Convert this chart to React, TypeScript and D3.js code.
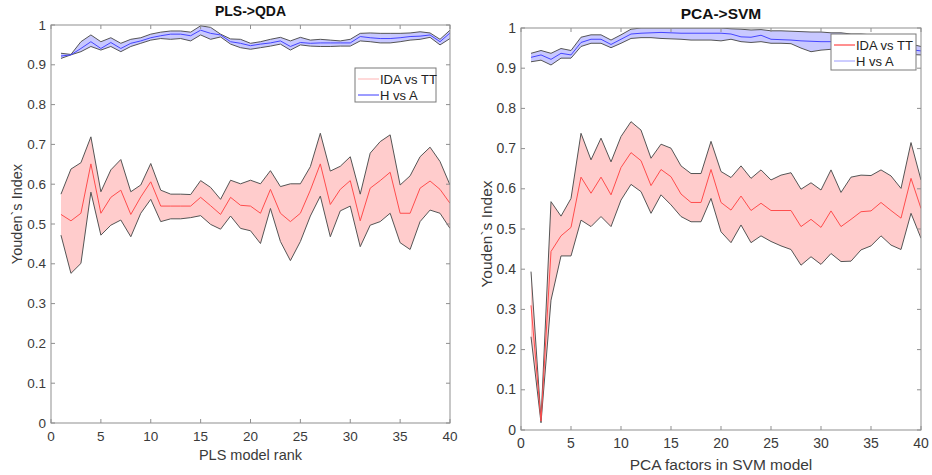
import * as d3 from 'd3';
import React, { useEffect, useRef } from 'react';

// ranks / factors on the x axis
const ranks = [1,2,3,4,5,6,7,8,9,10,11,12,13,14,15,16,17,18,19,20,21,22,23,24,25,26,27,28,29,30,31,32,33,34,35,36,37,38,39,40];
const xTicks = [0, 5, 10, 15, 20, 25, 30, 35, 40];
const yTicks = [0, 0.1, 0.2, 0.3, 0.4, 0.5, 0.6, 0.7, 0.8, 0.9, 1];

// PLS->QDA, IDA vs TT
const plsIdaHi = [0.575,0.638,0.654,0.719,0.581,0.636,0.662,0.581,0.598,0.652,0.585,0.575,0.575,0.574,0.609,0.592,0.562,0.610,0.601,0.610,0.601,0.634,0.594,0.601,0.601,0.644,0.728,0.633,0.645,0.669,0.575,0.678,0.707,0.724,0.598,0.621,0.669,0.693,0.657,0.598];
const plsIdaMean = [0.524,0.508,0.527,0.651,0.527,0.567,0.585,0.524,0.568,0.606,0.545,0.545,0.545,0.545,0.567,0.546,0.524,0.567,0.547,0.545,0.527,0.587,0.527,0.506,0.527,0.585,0.651,0.549,0.587,0.609,0.508,0.590,0.609,0.630,0.527,0.527,0.590,0.608,0.587,0.552];
const plsIdaLo = [0.472,0.376,0.401,0.580,0.472,0.497,0.510,0.468,0.527,0.562,0.506,0.513,0.513,0.516,0.521,0.499,0.487,0.520,0.489,0.483,0.451,0.539,0.456,0.408,0.456,0.520,0.570,0.468,0.533,0.545,0.443,0.497,0.506,0.527,0.453,0.436,0.506,0.535,0.527,0.489];
// PLS->QDA, H vs A
const plsHaHi = [0.929,0.926,0.958,0.975,0.958,0.968,0.954,0.964,0.968,0.977,0.982,0.985,0.985,0.982,0.998,0.994,0.977,0.965,0.964,0.954,0.958,0.964,0.969,0.960,0.969,0.962,0.964,0.962,0.960,0.964,0.979,0.980,0.979,0.979,0.979,0.980,0.983,0.980,0.964,0.987];
const plsHaMean = [0.922,0.925,0.941,0.958,0.941,0.956,0.941,0.954,0.960,0.968,0.973,0.977,0.977,0.973,0.987,0.979,0.975,0.958,0.954,0.948,0.952,0.955,0.960,0.946,0.956,0.954,0.955,0.955,0.955,0.955,0.971,0.968,0.966,0.966,0.968,0.971,0.972,0.975,0.958,0.980];
const plsHaLo = [0.916,0.925,0.933,0.946,0.937,0.946,0.933,0.946,0.954,0.962,0.966,0.964,0.966,0.960,0.975,0.964,0.970,0.952,0.943,0.939,0.943,0.947,0.952,0.937,0.950,0.947,0.946,0.946,0.947,0.947,0.960,0.958,0.955,0.955,0.958,0.962,0.964,0.969,0.950,0.966];

// PCA->SVM, IDA vs TT
const pcaIdaHi = [0.394,0.025,0.568,0.532,0.576,0.738,0.672,0.726,0.667,0.730,0.767,0.746,0.676,0.711,0.701,0.657,0.638,0.638,0.718,0.643,0.628,0.657,0.626,0.647,0.622,0.634,0.640,0.599,0.615,0.597,0.647,0.591,0.629,0.634,0.633,0.647,0.632,0.601,0.715,0.622];
const pcaIdaMean = [0.310,0.022,0.444,0.483,0.504,0.629,0.589,0.629,0.585,0.653,0.690,0.670,0.608,0.648,0.630,0.587,0.566,0.566,0.648,0.566,0.547,0.582,0.546,0.564,0.546,0.546,0.546,0.506,0.524,0.504,0.545,0.506,0.524,0.543,0.545,0.566,0.546,0.527,0.626,0.551];
const pcaIdaLo = [0.232,0.018,0.323,0.433,0.433,0.522,0.506,0.531,0.506,0.572,0.611,0.593,0.539,0.585,0.560,0.531,0.518,0.518,0.576,0.493,0.466,0.510,0.466,0.483,0.469,0.458,0.449,0.410,0.431,0.412,0.439,0.419,0.420,0.448,0.458,0.483,0.460,0.449,0.539,0.477];
// PCA->SVM, H vs A
const pcaHaHi = [0.937,0.944,0.937,0.949,0.944,0.977,0.983,0.983,0.970,0.983,0.997,1.0,1.0,1.0,1.0,1.0,1.0,1.0,1.0,1.0,0.998,0.997,0.995,0.996,0.993,0.993,0.992,0.991,0.990,0.990,0.988,0.988,0.985,0.985,0.983,0.982,0.980,0.975,0.960,0.954];
const pcaHaMean = [0.927,0.933,0.922,0.937,0.933,0.964,0.972,0.972,0.959,0.972,0.985,0.987,0.988,0.989,0.988,0.987,0.987,0.987,0.987,0.987,0.985,0.978,0.977,0.982,0.972,0.971,0.970,0.968,0.967,0.966,0.966,0.965,0.962,0.960,0.958,0.957,0.955,0.952,0.946,0.943];
const pcaHaLo = [0.916,0.920,0.908,0.925,0.925,0.954,0.962,0.962,0.951,0.962,0.974,0.976,0.976,0.974,0.973,0.972,0.970,0.970,0.970,0.968,0.972,0.966,0.964,0.966,0.962,0.962,0.961,0.950,0.941,0.945,0.947,0.946,0.944,0.942,0.940,0.938,0.937,0.935,0.934,0.933];

const FONT = "'Liberation Sans', Arial, sans-serif";

function drawPanel(svg, cfg) {
  const x = d3.scaleLinear().domain([0, 40]).range([cfg.left, cfg.right]);
  const y = d3.scaleLinear().domain([0, 1]).range([cfg.bottom, cfg.top]);
  const g = svg.append('g');

  const clipId = 'clip-' + cfg.id;
  g.append('clipPath').attr('id', clipId)
    .append('rect')
    .attr('x', cfg.left).attr('y', cfg.top)
    .attr('width', cfg.right - cfg.left).attr('height', cfg.bottom - cfg.top);

  const plot = g.append('g').attr('clip-path', `url(#${clipId})`);

  const area = d3.area()
    .x((d, i) => x(ranks[i]))
    .y0(d => y(d[0]))
    .y1(d => y(d[1]));
  const line = d3.line()
    .x((d, i) => x(ranks[i]))
    .y(d => y(d));

  cfg.bands.forEach(b => {
    plot.append('path')
      .datum(b.lo.map((v, i) => [v, b.hi[i]]))
      .attr('d', area)
      .attr('fill', b.fill);
    [b.hi, b.lo].forEach(s => {
      plot.append('path')
        .datum(s)
        .attr('d', line)
        .attr('fill', 'none')
        .attr('stroke', '#555')
        .attr('stroke-width', 1);
    });
    plot.append('path')
      .datum(b.mean)
      .attr('d', line)
      .attr('fill', 'none')
      .attr('stroke', b.color)
      .attr('stroke-width', 1);
  });

  // box and inward ticks on all sides
  const axisColor = '#8f8f8f';
  g.append('rect')
    .attr('x', cfg.left).attr('y', cfg.top)
    .attr('width', cfg.right - cfg.left).attr('height', cfg.bottom - cfg.top)
    .attr('fill', 'none').attr('stroke', axisColor).attr('stroke-width', 1);

  const tl = 4;
  xTicks.forEach(t => {
    g.append('line').attr('x1', x(t)).attr('x2', x(t))
      .attr('y1', cfg.bottom).attr('y2', cfg.bottom - tl).attr('stroke', axisColor);
    g.append('line').attr('x1', x(t)).attr('x2', x(t))
      .attr('y1', cfg.top).attr('y2', cfg.top + tl).attr('stroke', axisColor);
    g.append('text')
      .attr('x', x(t)).attr('y', cfg.bottom + 18)
      .attr('text-anchor', 'middle')
      .attr('font-size', cfg.fs).attr('fill', '#3a3a3a')
      .text(t);
  });
  yTicks.forEach(t => {
    g.append('line').attr('y1', y(t)).attr('y2', y(t))
      .attr('x1', cfg.left).attr('x2', cfg.left + tl).attr('stroke', axisColor);
    g.append('line').attr('y1', y(t)).attr('y2', y(t))
      .attr('x1', cfg.right).attr('x2', cfg.right - tl).attr('stroke', axisColor);
    g.append('text')
      .attr('x', cfg.left - 5).attr('y', y(t) + 4.5)
      .attr('text-anchor', 'end')
      .attr('font-size', cfg.fs).attr('fill', '#3a3a3a')
      .text(d3.format('~g')(t));
  });

  g.append('text')
    .attr('x', (cfg.left + cfg.right) / 2).attr('y', cfg.top - 9)
    .attr('text-anchor', 'middle')
    .attr('font-size', cfg.titleFs).attr('font-weight', 'bold').attr('fill', '#111')
    .text(cfg.title);

  g.append('text')
    .attr('x', (cfg.left + cfg.right) / 2).attr('y', cfg.xLabelY)
    .attr('text-anchor', 'middle')
    .attr('font-size', cfg.labelFs).attr('fill', '#3a3a3a')
    .text(cfg.xLabel);

  g.append('text')
    .attr('transform', `translate(${cfg.yLabelX},${cfg.yLabelMid}) rotate(-90)`)
    .attr('text-anchor', 'middle')
    .attr('font-size', cfg.labelFs).attr('fill', '#3a3a3a')
    .text("Youden`s Index");

  // legend
  const L = cfg.legend;
  const lg = g.append('g');
  lg.append('rect')
    .attr('x', L.x).attr('y', L.y).attr('width', L.w).attr('height', L.h)
    .attr('fill', '#fff').attr('stroke', '#7a7a7a').attr('stroke-width', 1);
  L.items.forEach((it, i) => {
    const yy = L.y + 11 + i * 16;
    lg.append('line')
      .attr('x1', L.x + 3).attr('x2', L.x + 24)
      .attr('y1', yy).attr('y2', yy)
      .attr('stroke', it.color).attr('stroke-width', 1);
    lg.append('text')
      .attr('x', L.x + 25).attr('y', yy + 4.5)
      .attr('font-size', 13).attr('fill', '#222')
      .text(it.label);
  });
}

const App = () => {
  const ref = useRef(null);

  useEffect(() => {
    const svg = d3.select(ref.current);
    svg.selectAll('*').remove();

    drawPanel(svg, {
      id: 'pls',
      left: 51, right: 450, top: 25, bottom: 423,
      fs: 13.5, labelFs: 14.5, titleFs: 14,
      title: 'PLS->QDA',
      xLabel: 'PLS model rank',
      xLabelY: 460,
      yLabelX: 22, yLabelMid: 214,
      bands: [
        { lo: plsIdaLo, hi: plsIdaHi, mean: plsIdaMean, fill: '#ffcccc', color: '#ff4d4d' },
        { lo: plsHaLo, hi: plsHaHi, mean: plsHaMean, fill: '#c8c8ff', color: '#4545ff' }
      ],
      legend: {
        x: 355, y: 68, w: 81, h: 34,
        items: [
          { label: 'IDA vs TT', color: '#ffb3b3' },
          { label: 'H vs A', color: '#3b3bff' }
        ]
      }
    });

    drawPanel(svg, {
      id: 'pca',
      left: 521, right: 921, top: 28, bottom: 430,
      fs: 14, labelFs: 15.5, titleFs: 15.5,
      title: 'PCA->SVM',
      xLabel: 'PCA factors in SVM model',
      xLabelY: 470,
      yLabelX: 492, yLabelMid: 234,
      bands: [
        { lo: pcaIdaLo, hi: pcaIdaHi, mean: pcaIdaMean, fill: '#ffcccc', color: '#ff4d4d' },
        { lo: pcaHaLo, hi: pcaHaHi, mean: pcaHaMean, fill: '#c8c8ff', color: '#4545ff' }
      ],
      legend: {
        x: 831, y: 34, w: 85, h: 36,
        items: [
          { label: 'IDA vs TT', color: '#ff2020' },
          { label: 'H vs A', color: '#9a9aff' }
        ]
      }
    });
  }, []);

  return (
    <svg
      ref={ref}
      width={932}
      height={475}
      style={{ position: 'absolute', left: 0, top: 0, background: '#fff', fontFamily: FONT }}
    ></svg>
  );
};

export default App;
